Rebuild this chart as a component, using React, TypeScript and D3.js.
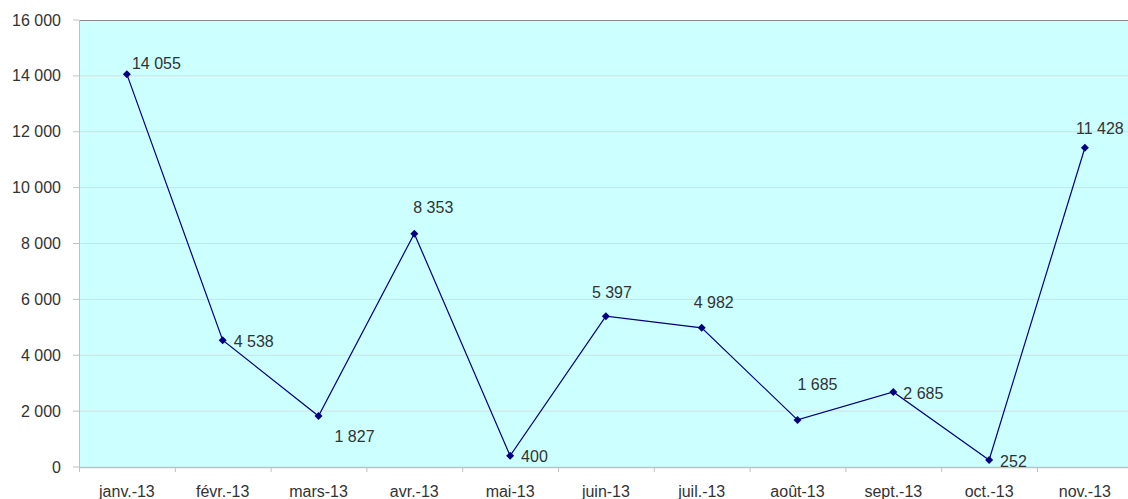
import React from "react";
import * as d3 from "d3";

const categories = ["janv.-13", "févr.-13", "mars-13", "avr.-13", "mai-13", "juin-13", "juil.-13", "août-13", "sept.-13", "oct.-13", "nov.-13"];
const values = [14055, 4538, 1827, 8353, 400, 5397, 4982, 1685, 2685, 252, 11428];
const yTicks = [0, 2000, 4000, 6000, 8000, 10000, 12000, 14000, 16000];

// label placement (layout): dx, dy relative to point, anchor
const labelPlacement: [number, number, string][] = [
  [5, -11, "start"],
  [11, 1, "start"],
  [16, 20, "start"],
  [19, -26, "middle"],
  [11, 1, "start"],
  [6, -24, "middle"],
  [12, -25, "middle"],
  [20, -36, "middle"],
  [10, 1, "start"],
  [11, 1, "start"],
  [15, -19, "middle"],
];

const fmt = (v: number) => d3.format(",")(v).replace(/,/g, " ");

export default function App() {
  const W = 1128, H = 499;
  const left = 79, top = 20, bottom = 467;
  const band = 95.8;
  const right = left + band * categories.length;
  const x = d3.scaleBand<string>().domain(categories).range([left, right]);
  const y = d3.scaleLinear().domain([0, 16000]).range([bottom, top]);
  const line = d3.line<number>().x((_, i) => x(categories[i])! + x.bandwidth() / 2).y((d) => y(d));
  const font = "'Liberation Sans', Arial, sans-serif";
  const fs = 16;
  return (
    <svg width={W} height={H} style={{ position: "absolute", left: 0, top: 0, display: "block" }}>
      <rect x={0} y={0} width={W} height={H} fill="#fff" />
      <rect x={left} y={top} width={right - left} height={bottom - top} fill="#CCFFFF" />
      {yTicks.filter((t) => t > 0 && t < 16000).map((t) => (
        <line key={t} x1={left} x2={right} y1={y(t)} y2={y(t)} stroke="#dedada" strokeWidth={1} />
      ))}
      <line x1={left} x2={right} y1={top + 0.5} y2={top + 0.5} stroke="#888" strokeWidth={1} />
      <line x1={left + 0.5} x2={left + 0.5} y1={top} y2={bottom} stroke="#c0c0c0" strokeWidth={1} />
      <line x1={left} x2={right} y1={bottom + 0.5} y2={bottom + 0.5} stroke="#c0c0c0" strokeWidth={1.5} />
      {yTicks.map((t) => (
        <g key={t}>
          <line x1={left - 6} x2={left} y1={y(t)} y2={y(t)} stroke="#c0c0c0" />
          <text x={61} y={y(t)} dy="0.35em" textAnchor="end" fontFamily={font} fontSize={fs} fill="#333">{fmt(t)}</text>
        </g>
      ))}
      {categories.map((c, i) => (
        <g key={c}>
          <line x1={x(c)! + 0.5} x2={x(c)! + 0.5} y1={bottom} y2={bottom + 5} stroke="#c0c0c0" />
          <text x={x(c)! + x.bandwidth() / 2} y={497} textAnchor="middle" fontFamily={font} fontSize={fs} fill="#333">{c}</text>
        </g>
      ))}
      <path d={line(values)!} fill="none" stroke="#000080" strokeWidth={1.2} />
      {values.map((v, i) => {
        const cx = x(categories[i])! + x.bandwidth() / 2;
        const cy = y(v);
        const [dx, dy, anchor] = labelPlacement[i];
        return (
          <g key={i}>
            <path d={`M${cx},${cy - 4}L${cx + 4},${cy}L${cx},${cy + 4}L${cx - 4},${cy}Z`} fill="#000080" />
            <text x={cx + dx} y={cy + dy} dy="0.35em" textAnchor={anchor as any} fontFamily={font} fontSize={fs} fill="#333">{fmt(v)}</text>
          </g>
        );
      })}
    </svg>
  );
}
